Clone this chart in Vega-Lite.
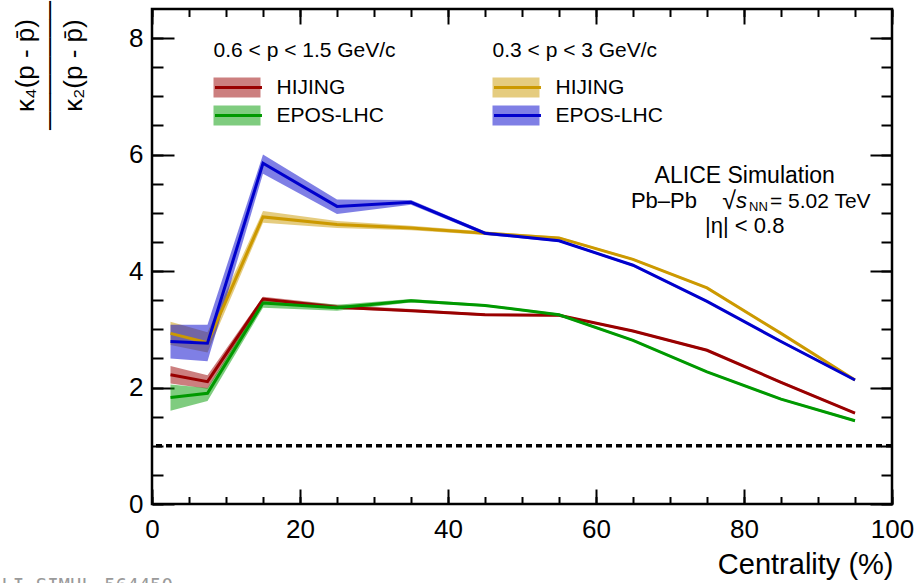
{
  "$schema": "https://vega.github.io/schema/vega-lite/v6.json",
  "width": 740,
  "height": 495,
  "autosize": {"type": "none"},
  "padding": {"left": 152, "top": 9, "right": 27, "bottom": 79},
  "background": "white",
  "config": {
    "font": "Liberation Sans",
    "view": {"stroke": "black", "strokeWidth": 2.5},
    "axis": {"grid": false, "domain": false, "tickColor": "black", "tickWidth": 2, "labelColor": "black", "titleColor": "black", "labelFont": "Liberation Sans", "titleFont": "Liberation Sans", "titleFontWeight": "normal", "labelFlush": false, "labelOverlap": false, "labelBound": false},
    "legend": {"titleLimit": 500, "labelLimit": 500}
  },
  "data": {
    "values": [
      {"g": "g1", "m": "HIJING", "x": 2.5, "y": 2.22, "lo": 2.07, "hi": 2.37},
      {"g": "g1", "m": "HIJING", "x": 7.5, "y": 2.10, "lo": 1.98, "hi": 2.21},
      {"g": "g1", "m": "HIJING", "x": 15, "y": 3.52, "lo": 3.47, "hi": 3.56},
      {"g": "g1", "m": "HIJING", "x": 25, "y": 3.38, "lo": 3.35, "hi": 3.42},
      {"g": "g1", "m": "HIJING", "x": 35, "y": 3.32, "lo": 3.30, "hi": 3.35},
      {"g": "g1", "m": "HIJING", "x": 45, "y": 3.25, "lo": 3.23, "hi": 3.27},
      {"g": "g1", "m": "HIJING", "x": 55, "y": 3.24, "lo": 3.22, "hi": 3.26},
      {"g": "g1", "m": "HIJING", "x": 65, "y": 2.97, "lo": 2.95, "hi": 2.99},
      {"g": "g1", "m": "HIJING", "x": 75, "y": 2.64, "lo": 2.62, "hi": 2.66},
      {"g": "g1", "m": "HIJING", "x": 85, "y": 2.09, "lo": 2.07, "hi": 2.11},
      {"g": "g1", "m": "HIJING", "x": 95, "y": 1.56, "lo": 1.54, "hi": 1.58},
      {"g": "g1", "m": "EPOS-LHC", "x": 2.5, "y": 1.83, "lo": 1.60, "hi": 2.05},
      {"g": "g1", "m": "EPOS-LHC", "x": 7.5, "y": 1.90, "lo": 1.77, "hi": 1.99},
      {"g": "g1", "m": "EPOS-LHC", "x": 15, "y": 3.45, "lo": 3.37, "hi": 3.53},
      {"g": "g1", "m": "EPOS-LHC", "x": 25, "y": 3.37, "lo": 3.32, "hi": 3.42},
      {"g": "g1", "m": "EPOS-LHC", "x": 35, "y": 3.49, "lo": 3.46, "hi": 3.52},
      {"g": "g1", "m": "EPOS-LHC", "x": 45, "y": 3.41, "lo": 3.39, "hi": 3.43},
      {"g": "g1", "m": "EPOS-LHC", "x": 55, "y": 3.25, "lo": 3.23, "hi": 3.27},
      {"g": "g1", "m": "EPOS-LHC", "x": 65, "y": 2.81, "lo": 2.79, "hi": 2.83},
      {"g": "g1", "m": "EPOS-LHC", "x": 75, "y": 2.27, "lo": 2.25, "hi": 2.29},
      {"g": "g1", "m": "EPOS-LHC", "x": 85, "y": 1.80, "lo": 1.78, "hi": 1.82},
      {"g": "g1", "m": "EPOS-LHC", "x": 95, "y": 1.43, "lo": 1.41, "hi": 1.45},
      {"g": "g2", "m": "HIJING", "x": 2.5, "y": 2.93, "lo": 2.73, "hi": 3.13},
      {"g": "g2", "m": "HIJING", "x": 7.5, "y": 2.77, "lo": 2.60, "hi": 2.95},
      {"g": "g2", "m": "HIJING", "x": 15, "y": 4.93, "lo": 4.83, "hi": 5.03},
      {"g": "g2", "m": "HIJING", "x": 25, "y": 4.80, "lo": 4.74, "hi": 4.86},
      {"g": "g2", "m": "HIJING", "x": 35, "y": 4.74, "lo": 4.70, "hi": 4.78},
      {"g": "g2", "m": "HIJING", "x": 45, "y": 4.65, "lo": 4.62, "hi": 4.68},
      {"g": "g2", "m": "HIJING", "x": 55, "y": 4.57, "lo": 4.55, "hi": 4.59},
      {"g": "g2", "m": "HIJING", "x": 65, "y": 4.20, "lo": 4.18, "hi": 4.22},
      {"g": "g2", "m": "HIJING", "x": 75, "y": 3.71, "lo": 3.69, "hi": 3.73},
      {"g": "g2", "m": "HIJING", "x": 85, "y": 2.93, "lo": 2.91, "hi": 2.95},
      {"g": "g2", "m": "HIJING", "x": 95, "y": 2.13, "lo": 2.11, "hi": 2.15},
      {"g": "g2", "m": "EPOS-LHC", "x": 2.5, "y": 2.79, "lo": 2.50, "hi": 3.08},
      {"g": "g2", "m": "EPOS-LHC", "x": 7.5, "y": 2.76, "lo": 2.45, "hi": 3.08},
      {"g": "g2", "m": "EPOS-LHC", "x": 15, "y": 5.85, "lo": 5.67, "hi": 6.00},
      {"g": "g2", "m": "EPOS-LHC", "x": 25, "y": 5.11, "lo": 4.98, "hi": 5.23},
      {"g": "g2", "m": "EPOS-LHC", "x": 35, "y": 5.18, "lo": 5.14, "hi": 5.22},
      {"g": "g2", "m": "EPOS-LHC", "x": 45, "y": 4.65, "lo": 4.62, "hi": 4.68},
      {"g": "g2", "m": "EPOS-LHC", "x": 55, "y": 4.52, "lo": 4.50, "hi": 4.54},
      {"g": "g2", "m": "EPOS-LHC", "x": 65, "y": 4.10, "lo": 4.08, "hi": 4.12},
      {"g": "g2", "m": "EPOS-LHC", "x": 75, "y": 3.48, "lo": 3.46, "hi": 3.50},
      {"g": "g2", "m": "EPOS-LHC", "x": 85, "y": 2.79, "lo": 2.77, "hi": 2.81},
      {"g": "g2", "m": "EPOS-LHC", "x": 95, "y": 2.13, "lo": 2.11, "hi": 2.15}
    ]
  },
  "layer": [
    {
      "transform": [{"filter": "datum.g === 'g1'"}],
      "mark": {"type": "area", "opacity": 0.5},
      "encoding": {
        "x": {"field": "x", "type": "quantitative", "scale": {"domain": [0, 100], "nice": false, "zero": false},
          "axis": {"orient": "bottom", "offset": -15, "tickSize": 15, "values": [0, 20, 40, 60, 80, 100], "labelFontSize": 26, "labelPadding": 12,
            "title": "Centrality (%)", "titleFontSize": 29, "titleAlign": "right", "titleAnchor": "end", "titleX": 741, "titleY": 84, "titleBaseline": "alphabetic"}},
        "y": {"field": "lo", "type": "quantitative", "scale": {"domain": [0, 8.5], "nice": false, "zero": false},
          "axis": {"orient": "left", "offset": -22, "tickSize": 22, "values": [0, 2, 4, 6, 8], "labelFontSize": 26, "labelPadding": 9,
            "title": ["κ₄(p - p̄)", "───────", "κ₂(p - p̄)"], "titleFontSize": 26, "titleAngle": -90, "titleAlign": "center", "titleBaseline": "middle", "titleLineHeight": 24, "titleX": -149, "titleY": 56}},
        "y2": {"field": "hi"},
        "fill": {"field": "m", "type": "nominal", "scale": {"domain": ["HIJING", "EPOS-LHC"], "range": ["#990000", "#009900"]},
          "legend": {"orient": "none", "legendX": 61.5, "legendY": 31, "padding": 0, "title": "0.6 < p < 1.5 GeV/c", "titleFontSize": 21, "titleFontWeight": "normal", "titleColor": "black", "titlePadding": 14,
            "labelFontSize": 21, "labelColor": "black", "labelOffset": 38, "symbolType": "M-1,-0.8L2.76,-0.8L2.76,0.8L-1,0.8Z", "symbolSize": 625, "symbolOpacity": 0.5, "symbolStrokeWidth": 0, "rowPadding": 5}}
      }
    },
    {
      "transform": [{"filter": "datum.g === 'g1'"}],
      "mark": {"type": "line", "strokeWidth": 3},
      "encoding": {
        "x": {"field": "x", "type": "quantitative", "axis": {"orient": "bottom", "offset": -7.5, "tickSize": 7.5, "values": [0,5,10,15,20,25,30,35,40,45,50,55,60,65,70,75,80,85,90,95,100], "labels": false, "title": null}},
        "y": {"field": "y", "type": "quantitative", "axis": {"orient": "left", "offset": -11, "tickSize": 11, "values": [0,0.5,1,1.5,2,2.5,3,3.5,4,4.5,5,5.5,6,6.5,7,7.5,8], "labels": false, "title": null}},
        "stroke": {"field": "m", "type": "nominal", "scale": {"domain": ["HIJING", "EPOS-LHC"], "range": ["#990000", "#009900"]},
          "legend": {"orient": "none", "legendX": 61.5, "legendY": 31, "padding": 0, "title": "0.6 < p < 1.5 GeV/c", "titleFontSize": 21, "titleFontWeight": "normal", "titleColor": "transparent", "titlePadding": 14,
            "labelFontSize": 21, "labelColor": "transparent", "labelOffset": 38, "symbolType": "M-1,0L3.27,0", "symbolSize": 484, "symbolStrokeWidth": 3, "rowPadding": 5}}
      }
    },
    {
      "transform": [{"filter": "datum.g === 'g2'"}],
      "mark": {"type": "area", "opacity": 0.5},
      "encoding": {
        "x": {"field": "x", "type": "quantitative", "axis": {"orient": "top", "offset": -15, "tickSize": 15, "values": [0, 20, 40, 60, 80, 100], "labels": false, "title": null}},
        "y": {"field": "lo", "type": "quantitative", "axis": {"orient": "right", "offset": -22, "tickSize": 22, "values": [0, 2, 4, 6, 8], "labels": false, "title": null}},
        "y2": {"field": "hi"},
        "fill": {"field": "m", "type": "nominal", "scale": {"domain": ["HIJING", "EPOS-LHC"], "range": ["#CC9900", "#0000CC"]},
          "legend": {"orient": "none", "legendX": 340.5, "legendY": 31, "padding": 0, "title": "0.3 < p < 3 GeV/c", "titleFontSize": 21, "titleFontWeight": "normal", "titleColor": "black", "titlePadding": 14,
            "labelFontSize": 21, "labelColor": "black", "labelOffset": 38, "symbolType": "M-1,-0.8L2.76,-0.8L2.76,0.8L-1,0.8Z", "symbolSize": 625, "symbolOpacity": 0.5, "symbolStrokeWidth": 0, "rowPadding": 5}}
      }
    },
    {
      "transform": [{"filter": "datum.g === 'g2'"}],
      "mark": {"type": "line", "strokeWidth": 3},
      "encoding": {
        "x": {"field": "x", "type": "quantitative", "axis": {"orient": "top", "offset": -7.5, "tickSize": 7.5, "values": [0,5,10,15,20,25,30,35,40,45,50,55,60,65,70,75,80,85,90,95,100], "labels": false, "title": null}},
        "y": {"field": "y", "type": "quantitative", "axis": {"orient": "right", "offset": -11, "tickSize": 11, "values": [0,0.5,1,1.5,2,2.5,3,3.5,4,4.5,5,5.5,6,6.5,7,7.5,8], "labels": false, "title": null}},
        "stroke": {"field": "m", "type": "nominal", "scale": {"domain": ["HIJING", "EPOS-LHC"], "range": ["#CC9900", "#0000CC"]},
          "legend": {"orient": "none", "legendX": 340.5, "legendY": 31, "padding": 0, "title": "0.3 < p < 3 GeV/c", "titleFontSize": 21, "titleFontWeight": "normal", "titleColor": "transparent", "titlePadding": 14,
            "labelFontSize": 21, "labelColor": "transparent", "labelOffset": 38, "symbolType": "M-1,0L3.27,0", "symbolSize": 484, "symbolStrokeWidth": 3, "rowPadding": 5}}
      }
    },
    {
      "data": {"values": [{}]},
      "mark": {"type": "rule", "color": "black", "strokeWidth": 3.5, "strokeDash": [6, 4]},
      "encoding": {"y": {"datum": 1, "type": "quantitative", "axis": null}}
    },
    {
      "data": {"values": [{}]},
      "mark": {"type": "text", "text": "ALICE Simulation", "fontSize": 23, "align": "center", "baseline": "alphabetic", "color": "black"},
      "encoding": {"x": {"datum": 80.1, "type": "quantitative", "axis": null}, "y": {"datum": 5.51, "type": "quantitative", "axis": null}}
    },
    {
      "data": {"values": [{}]},
      "mark": {"type": "text", "text": "Pb–Pb", "fontSize": 22, "align": "right", "baseline": "alphabetic", "color": "black", "dx": -47},
      "encoding": {"x": {"datum": 80.0, "type": "quantitative", "axis": null}, "y": {"datum": 5.08, "type": "quantitative", "axis": null}}
    },
    {
      "data": {"values": [{}]},
      "mark": {"type": "text", "text": "√", "fontSize": 25, "align": "right", "baseline": "alphabetic", "color": "black", "dx": -8, "dy": 1},
      "encoding": {"x": {"datum": 80.0, "type": "quantitative", "axis": null}, "y": {"datum": 5.08, "type": "quantitative", "axis": null}}
    },
    {
      "data": {"values": [{}]},
      "mark": {"type": "text", "text": "s", "fontSize": 22, "fontStyle": "italic", "align": "left", "baseline": "alphabetic", "color": "black", "dx": -8},
      "encoding": {"x": {"datum": 80.0, "type": "quantitative", "axis": null}, "y": {"datum": 5.08, "type": "quantitative", "axis": null}}
    },
    {
      "data": {"values": [{}]},
      "mark": {"type": "text", "text": "NN", "fontSize": 13, "align": "left", "baseline": "alphabetic", "color": "black", "dx": 5, "dy": 3},
      "encoding": {"x": {"datum": 80.0, "type": "quantitative", "axis": null}, "y": {"datum": 5.08, "type": "quantitative", "axis": null}}
    },
    {
      "data": {"values": [{}]},
      "mark": {"type": "text", "text": "= 5.02 TeV", "fontSize": 21, "align": "left", "baseline": "alphabetic", "color": "black", "dx": 26},
      "encoding": {"x": {"datum": 80.0, "type": "quantitative", "axis": null}, "y": {"datum": 5.08, "type": "quantitative", "axis": null}}
    },
    {
      "data": {"values": [{}]},
      "mark": {"type": "text", "text": "|η| < 0.8", "fontSize": 22, "align": "center", "baseline": "alphabetic", "color": "black"},
      "encoding": {"x": {"datum": 80.1, "type": "quantitative", "axis": null}, "y": {"datum": 4.65, "type": "quantitative", "axis": null}}
    },
    {
      "data": {"values": [{}]},
      "mark": {"type": "text", "text": "ALI-SIMUL-564450", "font": "DejaVu Sans Mono", "fontSize": 19, "align": "left", "baseline": "alphabetic", "color": "#9a9a9a"},
      "encoding": {"x": {"datum": -21.9, "type": "quantitative", "axis": null}, "y": {"datum": -1.51, "type": "quantitative", "axis": null}}
    }
  ],
  "resolve": {
    "scale": {"fill": "independent", "stroke": "independent"},
    "axis": {"x": "independent", "y": "independent"}
  }
}
